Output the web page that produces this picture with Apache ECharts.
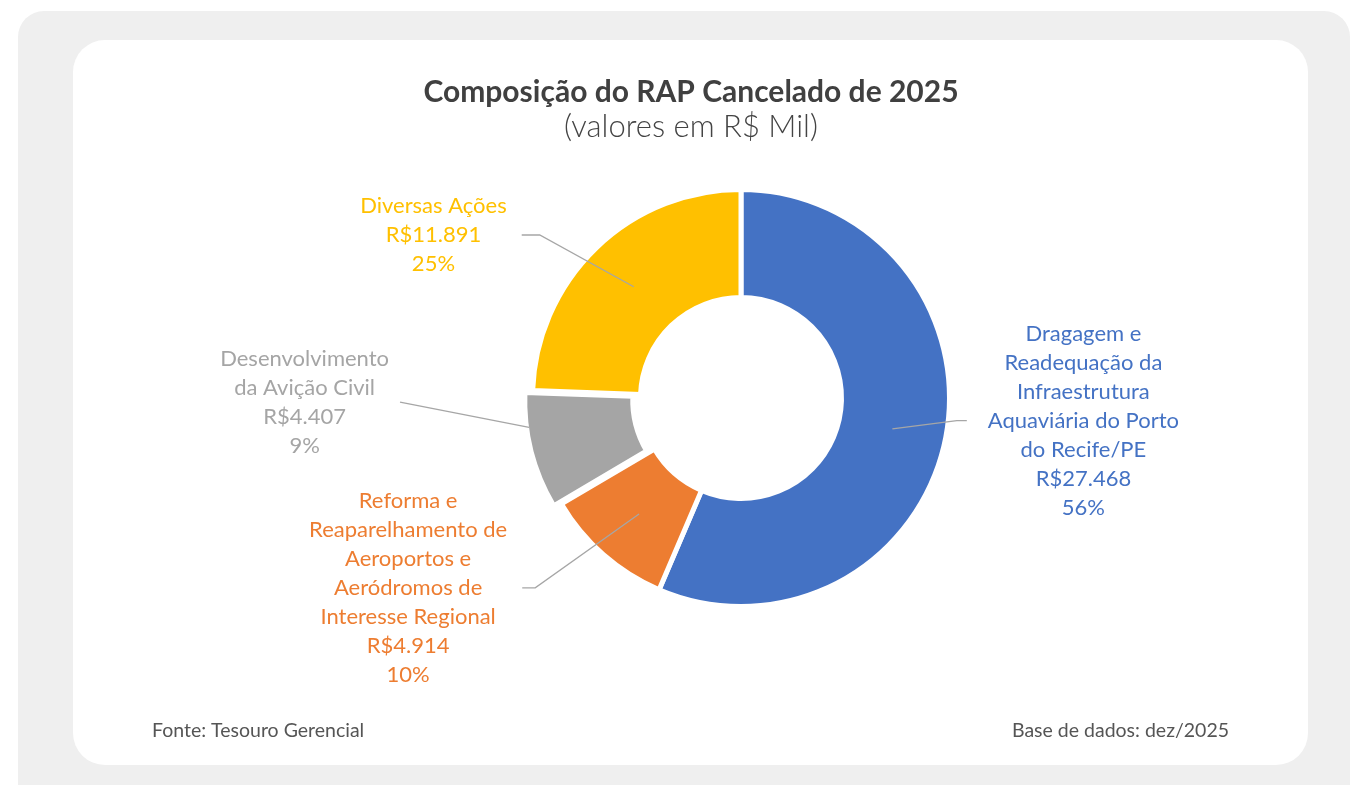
<!DOCTYPE html>
<html>
<head>
<meta charset="utf-8">
<title>Composição do RAP Cancelado de 2025</title>
<script src="https://cdn.jsdelivr.net/npm/echarts@6/dist/echarts.min.js"></script>
<style>
    html, body { margin: 0; padding: 0; background: #fff; }
    #chart { width: 1352px; height: 785px; }
</style>
</head>
<body>
<div id="chart"></div>
<script>
var nomes = [
    'Dragagem e\nReadequação da\nInfraestrutura\nAquaviária do Porto\ndo Recife/PE',
    'Reforma e\nReaparelhamento de\nAeroportos e\nAeródromos de\nInteresse Regional',
    'Desenvolvimento\nda Avição Civil',
    'Diversas Ações'
];
var valores = [27468, 4914, 4407, 11891];
var cores = ['#4472C4', '#ED7D31', '#A5A5A5', '#FFC000'];

var titulo = 'Composição do RAP Cancelado de 2025';
var subtitulo = '(valores em R$ Mil)';
var fonte = 'Fonte: Tesouro Gerencial';
var base = 'Base de dados: dez/2025';

// geometria do anel
var centro = [741, 398];
var rInt = 103, rExt = 206;
var destaque = 2;      // fatia destacada (Desenvolvimento)
var deslocamento = 8;

// fim das linhas de chamada: ângulo (horário a partir do topo), distância do centro,
// trecho horizontal e espaço até o texto
var ancoras = [
    { ang: 96, dist: 217, cauda: 10, folga: 21, borda: false },
    { ang: 227.3, dist: 280, cauda: 13, folga: 15, borda: false },
    { ang: 269.3, dist: 341, cauda: 0, folga: 11, borda: true },
    { ang: 309, dist: 259, cauda: 18, folga: 15, borda: false }
];

function formatarMil(v) {
    return String(v).replace(/\B(?=(\d{3})+(?!\d))/g, '.');
}

function direcao(graus) {
    var r = graus * Math.PI / 180;
    return [Math.sin(r), -Math.cos(r)];
}

var total = valores.reduce(function (a, b) { return a + b; }, 0);
var angMeio = [];
var acum = 0;
valores.forEach(function (v) {
    angMeio.push((acum + v / 2) / total * 360);
    acum += v;
});

var dDestaque = direcao(angMeio[destaque]);
var centroDestaque = [centro[0] + dDestaque[0] * deslocamento, centro[1] + dDestaque[1] * deslocamento];

function posicionarRotulo(params) {
    var i = params.dataIndex;
    var a = ancoras[i];
    var d = direcao(angMeio[i]);
    var c = i === destaque ? centroDestaque : centro;
    var rMeio = (rInt + rExt) / 2;
    var pm = [c[0] + d[0] * rMeio, c[1] + d[1] * rMeio];
    var da = direcao(a.ang);
    var p2 = [centro[0] + da[0] * a.dist, centro[1] + da[1] * a.dist];
    var lado = p2[0] < centro[0] ? -1 : 1;
    var p3 = [p2[0] + lado * a.cauda, p2[1]];
    var p1 = pm;
    if (a.borda) {
        // a linha para na borda externa da fatia
        var ux = pm[0] - p2[0], uy = pm[1] - p2[1];
        var fx = p2[0] - c[0], fy = p2[1] - c[1];
        var A = ux * ux + uy * uy;
        var B = 2 * (fx * ux + fy * uy);
        var C = fx * fx + fy * fy - rExt * rExt;
        var t = (-B - Math.sqrt(B * B - 4 * A * C)) / (2 * A);
        p1 = [p2[0] + ux * t, p2[1] + uy * t];
    }
    var w = params.labelRect.width;
    return {
        x: p3[0] + lado * (a.folga + w / 2),
        y: p3[1],
        align: 'center',
        verticalAlign: 'middle',
        labelLinePoints: [p1, p2, p3]
    };
}

var transparente = 'rgba(0,0,0,0)';

// anel principal, sem a fatia destacada
var dadosAnel = valores.map(function (v, i) {
    return {
        value: v,
        name: nomes[i],
        itemStyle: i === destaque
            ? { color: transparente, borderWidth: 0 }
            : { color: cores[i] }
    };
});

// só a fatia destacada, com o centro deslocado
var dadosDestaque = valores.map(function (v, i) {
    return {
        value: v,
        name: nomes[i],
        itemStyle: i === destaque
            ? { color: cores[i] }
            : { color: transparente, borderWidth: 0 }
    };
});

// camada de rótulos por cima das fatias
var dadosRotulos = valores.map(function (v, i) {
    return {
        value: v,
        name: nomes[i],
        label: { color: cores[i] }
    };
});

var baseSerie = {
    type: 'pie',
    radius: [rInt - 2.5, rExt + 2.5],
    startAngle: 90,
    clockwise: true,
    silent: true,
    emphasis: { disabled: true },
    itemStyle: { borderColor: '#ffffff', borderWidth: 5 },
    label: { show: false },
    labelLine: { show: false }
};

var myChart = echarts.init(document.getElementById('chart'));
var option = {
    animation: false,
    graphic: [
        {
            type: 'rect', z: -20,
            shape: { x: 18, y: 11, width: 1332, height: 820, r: 26 },
            style: { fill: '#efefef' }
        },
        {
            type: 'rect', z: -10,
            shape: { x: 73, y: 40, width: 1235, height: 725, r: 32 },
            style: { fill: '#ffffff' }
        },
        {
            type: 'text', x: 691, y: 92,
            style: {
                text: titulo, fill: '#404040', font: 'bold 30px Lato',
                textAlign: 'center', textVerticalAlign: 'middle'
            }
        },
        {
            type: 'text', x: 691, y: 127,
            style: {
                text: subtitulo, fill: '#444444', font: '300 31px Lato',
                textAlign: 'center', textVerticalAlign: 'middle'
            }
        },
        {
            type: 'text', x: 152, y: 731,
            style: {
                text: fonte, fill: '#555555', font: '19.5px Lato',
                textAlign: 'left', textVerticalAlign: 'middle'
            }
        },
        {
            type: 'text', x: 1229, y: 731,
            style: {
                text: base, fill: '#555555', font: '19.5px Lato',
                textAlign: 'right', textVerticalAlign: 'middle'
            }
        }
    ],
    series: [
        echarts.util.merge({ name: 'Anel', center: centro, z: 2, data: dadosAnel }, baseSerie),
        echarts.util.merge({ name: 'Destaque', center: centroDestaque, z: 2, data: dadosDestaque }, baseSerie),
        echarts.util.merge({
            name: 'RAP Cancelado',
            center: centro,
            z: 3,
            percentPrecision: 0,
            itemStyle: { color: transparente, borderWidth: 0 },
            label: {
                show: true,
                position: 'outside',
                fontFamily: 'Lato',
                fontSize: 22,
                lineHeight: 29,
                formatter: function (p) {
                    return p.name + '\nR$' + formatarMil(p.value) + '\n' + p.percent + '%';
                }
            },
            labelLine: {
                show: true,
                length: 10,
                length2: 10,
                lineStyle: { color: '#a6a6a6', width: 1.3 }
            },
            labelLayout: posicionarRotulo,
            data: dadosRotulos
        }, baseSerie)
    ]
};
myChart.setOption(option);
</script>
</body>
</html>
